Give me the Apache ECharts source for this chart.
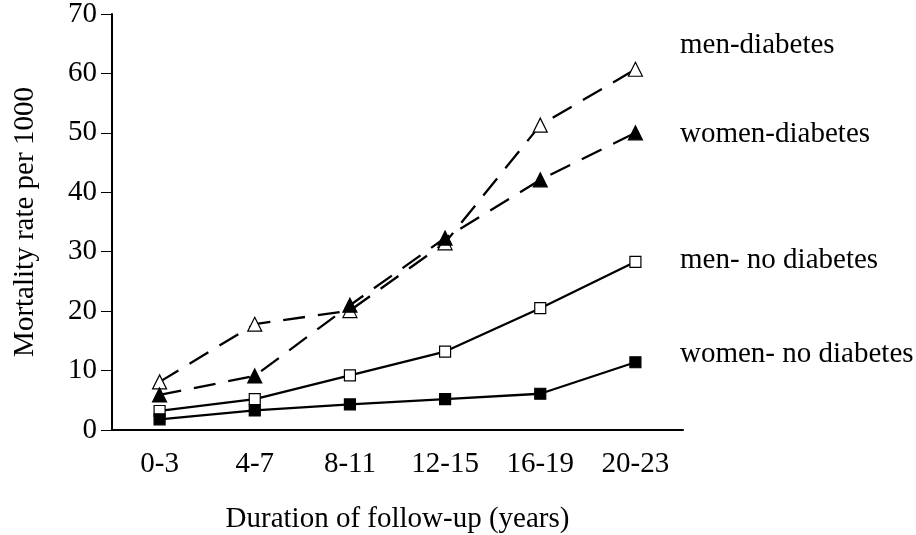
<!DOCTYPE html>
<html>
<head>
<meta charset="utf-8">
<script src="https://cdn.jsdelivr.net/npm/echarts@6/dist/echarts.min.js"></script>
<style>
  html, body { margin: 0; padding: 0; background: #fff; }
  #main { width: 916px; height: 535px; }
</style>
</head>
<body>
<div id="main"></div>
<script>
// 横轴分组（随访年数）
var categories = ['0-3', '4-7', '8-11', '12-15', '16-19', '20-23'];
// 各组死亡率 (per 1000)
var menDiabetes = [8.1, 17.8, 20.1, 31.5, 51.3, 60.7];
var womenDiabetes = [5.9, 9.1, 21.0, 32.3, 42.1, 50.0];
var menNoDiabetes = [3.2, 5.2, 9.2, 13.2, 20.5, 28.3];
var womenNoDiabetes = [1.8, 3.3, 4.3, 5.2, 6.1, 11.4];
var seriesNames = ['men-diabetes', 'women-diabetes', 'men- no diabetes', 'women- no diabetes'];
var yTicks = [0, 10, 20, 30, 40, 50, 60, 70];

var FONT = "'Liberation Serif', 'Times New Roman', serif";
var chart = echarts.init(document.getElementById('main'));

function makeSeries(name, data, symbol, filled, dashed, size) {
  return {
    name: name,
    type: 'line',
    data: data,
    symbol: symbol,
    symbolSize: size,
    showAllSymbol: true,
    z: 3,
    lineStyle: { color: '#000', width: 2.3, type: dashed ? [22, 13] : 'solid' },
    itemStyle: { color: filled ? '#000' : '#fff', borderColor: '#000', borderWidth: 1.2 },
    emphasis: { disabled: true },
    animation: false
  };
}

var labelY = [47, 136, 262, 356];

var option = {
  animation: false,
  backgroundColor: '#fff',
  grid: { left: 112, right: 233, top: 14, bottom: 105, containLabel: false, outerBoundsMode: 'none' },
  xAxis: {
    type: 'category',
    data: categories,
    boundaryGap: true,
    name: 'Duration of follow-up (years)',
    nameLocation: 'middle',
    nameGap: 75,
    nameTextStyle: { fontFamily: FONT, fontSize: 29, color: '#000' },
    axisLine: { lineStyle: { color: '#000', width: 2 } },
    axisTick: { alignWithLabel: true, length: 8, lineStyle: { color: '#000', width: 1 } },
    axisLabel: { fontFamily: FONT, fontSize: 29, color: '#000', margin: 20 },
    splitLine: { show: false }
  },
  yAxis: {
    type: 'value',
    min: yTicks[0],
    max: yTicks[yTicks.length - 1],
    interval: 10,
    name: 'Mortality rate per 1000',
    nameLocation: 'middle',
    nameGap: 72,
    nameRotate: 90,
    nameTextStyle: { fontFamily: FONT, fontSize: 29, color: '#000' },
    axisLine: { show: true, lineStyle: { color: '#000', width: 2 } },
    axisTick: { show: true, length: 11, lineStyle: { color: '#000', width: 1 } },
    axisLabel: { fontFamily: FONT, fontSize: 29, color: '#000', margin: 15 },
    splitLine: { show: false }
  },
  graphic: seriesNames.map(function (n, i) {
    return {
      type: 'text',
      left: 680,
      top: labelY[i] - 16,
      style: { text: n, fontFamily: FONT, fontSize: 29, fill: '#000' }
    };
  }),
  series: [
    makeSeries(seriesNames[0], menDiabetes, 'triangle', false, true, 14),
    makeSeries(seriesNames[1], womenDiabetes, 'triangle', true, true, 14),
    makeSeries(seriesNames[2], menNoDiabetes, 'rect', false, false, 11),
    makeSeries(seriesNames[3], womenNoDiabetes, 'rect', true, false, 11)
  ]
};

chart.setOption(option);
</script>
</body>
</html>
